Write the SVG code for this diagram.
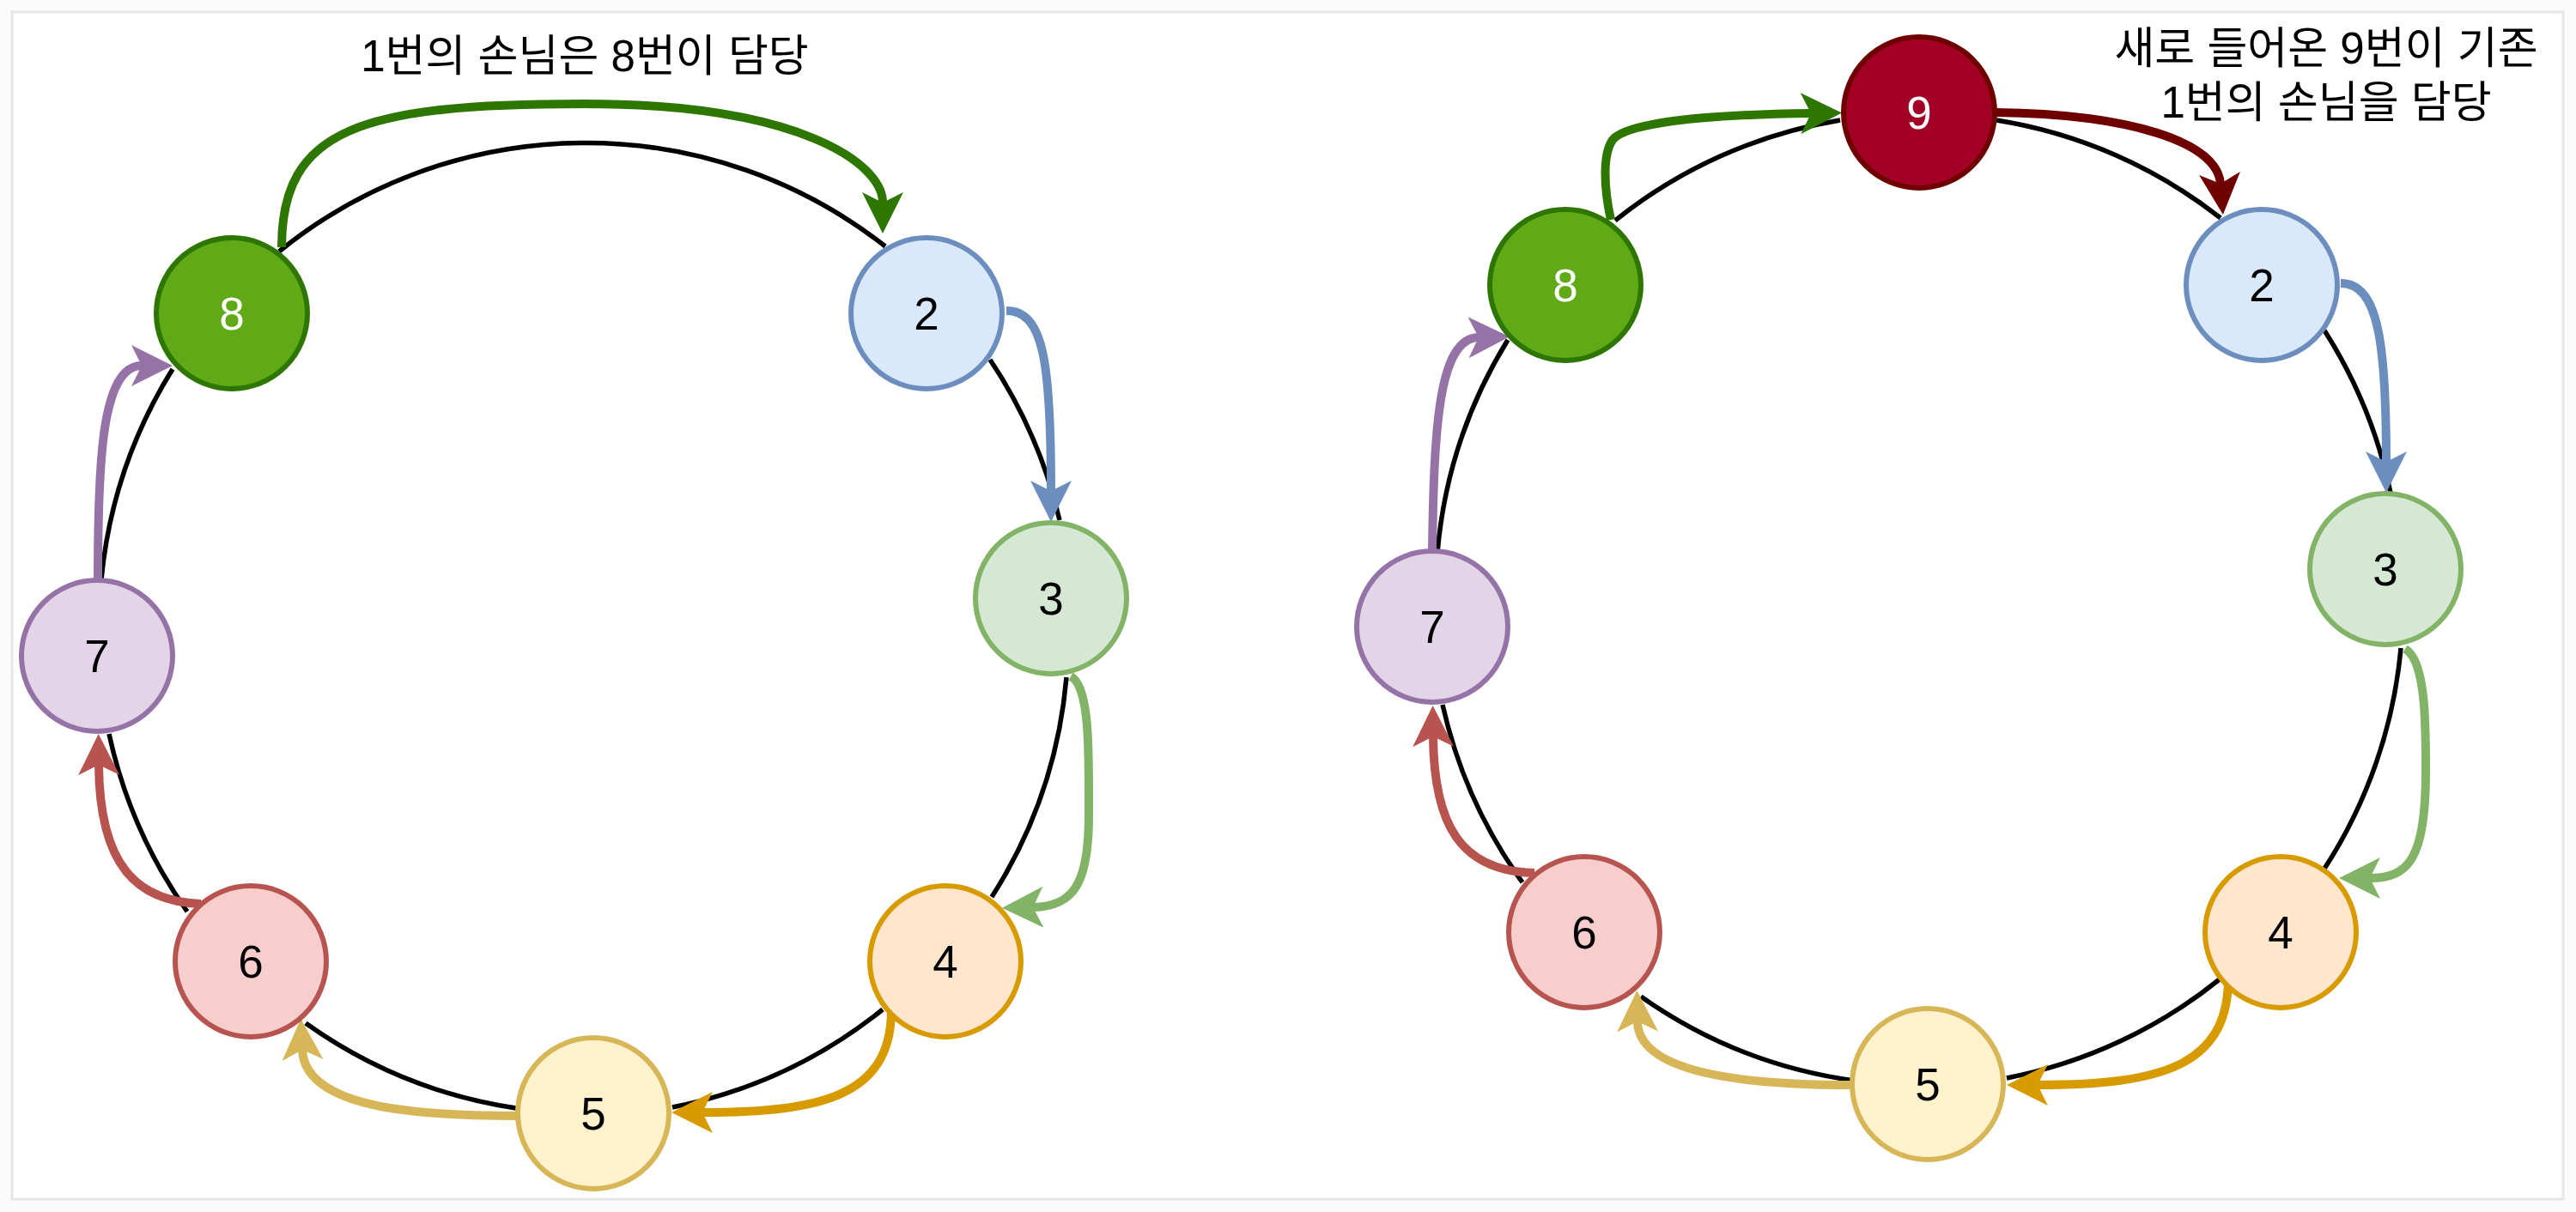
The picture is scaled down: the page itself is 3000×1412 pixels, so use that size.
<svg xmlns="http://www.w3.org/2000/svg" width="3000" height="1412" viewBox="0 0 3000 1412">
<style>
.ring{fill:none;stroke:#000;stroke-width:5.5}
.arr{fill:none;stroke-width:10}
.node{stroke-width:6}
.num{font-family:'Liberation Sans','Noto Sans',sans-serif;font-size:53px;text-anchor:middle}
.lbl{font-family:'Liberation Sans','Noto Sans CJK KR',sans-serif;font-size:51px;text-anchor:middle;fill:#000}
</style>
<defs>
<marker id="mG8" markerUnits="userSpaceOnUse" markerWidth="48" markerHeight="48" viewBox="0 0 48 48" refX="12" refY="24" orient="auto"><path d="M0,0 L48,24 L0,48 L12,24 Z" fill="#2d7600"/></marker>
<marker id="mB" markerUnits="userSpaceOnUse" markerWidth="48" markerHeight="48" viewBox="0 0 48 48" refX="12" refY="24" orient="auto"><path d="M0,0 L48,24 L0,48 L12,24 Z" fill="#6c8ebf"/></marker>
<marker id="mG3" markerUnits="userSpaceOnUse" markerWidth="48" markerHeight="48" viewBox="0 0 48 48" refX="12" refY="24" orient="auto"><path d="M0,0 L48,24 L0,48 L12,24 Z" fill="#82b366"/></marker>
<marker id="mO" markerUnits="userSpaceOnUse" markerWidth="48" markerHeight="48" viewBox="0 0 48 48" refX="12" refY="24" orient="auto"><path d="M0,0 L48,24 L0,48 L12,24 Z" fill="#d79b00"/></marker>
<marker id="mY" markerUnits="userSpaceOnUse" markerWidth="48" markerHeight="48" viewBox="0 0 48 48" refX="12" refY="24" orient="auto"><path d="M0,0 L48,24 L0,48 L12,24 Z" fill="#d6b656"/></marker>
<marker id="mR" markerUnits="userSpaceOnUse" markerWidth="48" markerHeight="48" viewBox="0 0 48 48" refX="12" refY="24" orient="auto"><path d="M0,0 L48,24 L0,48 L12,24 Z" fill="#b85450"/></marker>
<marker id="mP" markerUnits="userSpaceOnUse" markerWidth="48" markerHeight="48" viewBox="0 0 48 48" refX="12" refY="24" orient="auto"><path d="M0,0 L48,24 L0,48 L12,24 Z" fill="#9673a6"/></marker>
<marker id="mD" markerUnits="userSpaceOnUse" markerWidth="48" markerHeight="48" viewBox="0 0 48 48" refX="12" refY="24" orient="auto"><path d="M0,0 L48,24 L0,48 L12,24 Z" fill="#6f0000"/></marker>
</defs>
<rect x="0" y="0" width="3000" height="1412" fill="#fbfbfb"/>
<rect x="14" y="14" width="2971" height="1383" fill="#ffffff" stroke="#e6e6e6" stroke-width="3"/>

<g id="connectors">
<g id="ring-left">
<path class="ring" d="M325,293 A566,566 0 0 1 1031,287"/>
<path class="ring" d="M1153,419 A566,566 0 0 1 1234,606"/>
<path class="ring" d="M1242,789 A566,566 0 0 1 1155,1045"/>
<path class="ring" d="M1028,1176 A566,566 0 0 1 783,1290"/>
<path class="ring" d="M601,1291 A566,566 0 0 1 356,1192"/>
<path class="ring" d="M218,1062 A566,566 0 0 1 127,855"/>
<path class="ring" d="M118,675 A566,566 0 0 1 201,430"/>
</g>
<g id="arrows-left">
<path class="arr" stroke="#2d7600" marker-end="url(#mG8)" d="M328,288 C328,150 420,121 680,121 C930,121 1028,190 1028,236"/>
<path class="arr" stroke="#6c8ebf" marker-end="url(#mB)" d="M1172,362 C1215,362 1224,420 1224,572"/>
<path class="arr" stroke="#82b366" marker-end="url(#mG3)" d="M1247,788 C1270,800 1268,880 1268,950 C1268,1030 1250,1056 1203,1057"/>
<path class="arr" stroke="#d79b00" marker-end="url(#mO)" d="M1038,1180 C1036,1275 960,1296 818,1296"/>
<path class="arr" stroke="#d6b656" marker-end="url(#mY)" d="M603,1300 C480,1300 355,1290 352,1223"/>
<path class="arr" stroke="#b85450" marker-end="url(#mR)" d="M234,1053 C160,1050 116,1010 115,891"/>
<path class="arr" stroke="#9673a6" marker-end="url(#mP)" d="M114,674 C114,540 118,426 165,426"/>
</g>
<g id="ring-right">
<path class="ring" d="M1881,257 A565,565 0 0 1 2143,140"/>
<path class="ring" d="M2325,140 A565,565 0 0 1 2586,254"/>
<path class="ring" d="M2707,385 A565,565 0 0 1 2784,574"/>
<path class="ring" d="M2796,755 A565,565 0 0 1 2707,1012"/>
<path class="ring" d="M2586,1140 A565,565 0 0 1 2337,1256"/>
<path class="ring" d="M2160,1259 A565,565 0 0 1 1911,1161"/>
<path class="ring" d="M1773,1028 A565,565 0 0 1 1680,821"/>
<path class="ring" d="M1674,644 A565,565 0 0 1 1756,396"/>
</g>
<g id="arrows-right">
<path class="arr" stroke="#2d7600" marker-end="url(#mG8)" d="M1876,256 C1868,220 1866,180 1878,163 C1890,148 1950,134 2109,132"/>
<path class="arr" stroke="#6f0000" marker-end="url(#mD)" d="M2325,131 C2480,133 2582,165 2586,214"/>
<path class="arr" stroke="#6c8ebf" marker-end="url(#mB)" d="M2726,330 C2770,330 2779,400 2779,538"/>
<path class="arr" stroke="#82b366" marker-end="url(#mG3)" d="M2801,756 C2826,770 2825,850 2825,900 C2825,1000 2805,1023 2760,1023"/>
<path class="arr" stroke="#d79b00" marker-end="url(#mO)" d="M2595,1145 C2592,1240 2520,1264 2373,1264"/>
<path class="arr" stroke="#d6b656" marker-end="url(#mY)" d="M2158,1264 C2030,1264 1908,1250 1907,1190"/>
<path class="arr" stroke="#b85450" marker-end="url(#mR)" d="M1787,1017 C1700,1015 1670,960 1669,858"/>
<path class="arr" stroke="#9673a6" marker-end="url(#mP)" d="M1668,642 C1670,500 1675,394 1722,393"/>
</g>
</g>

<g id="left-nodes">
<g id="L8"><circle class="node" cx="270" cy="365" r="88" fill="#60a917" stroke="#2d7600"/><text class="num" x="270" y="384" fill="#ffffff">8</text></g>
<g id="L2"><circle class="node" cx="1079" cy="365" r="88" fill="#dae8fc" stroke="#6c8ebf"/><text class="num" x="1079" y="384" fill="#000">2</text></g>
<g id="L3"><circle class="node" cx="1224" cy="697" r="88" fill="#d5e8d4" stroke="#82b366"/><text class="num" x="1224" y="716" fill="#000">3</text></g>
<g id="L4"><circle class="node" cx="1101" cy="1120" r="88" fill="#ffe6cc" stroke="#d79b00"/><text class="num" x="1101" y="1139" fill="#000">4</text></g>
<g id="L5"><circle class="node" cx="691" cy="1297" r="88" fill="#fff2cc" stroke="#d6b656"/><text class="num" x="691" y="1316" fill="#000">5</text></g>
<g id="L6"><circle class="node" cx="292" cy="1120" r="88" fill="#f8cecc" stroke="#b85450"/><text class="num" x="292" y="1139" fill="#000">6</text></g>
<g id="L7"><circle class="node" cx="113" cy="764" r="88" fill="#e1d5e7" stroke="#9673a6"/><text class="num" x="113" y="783" fill="#000">7</text></g>
</g>

<g id="right-nodes">
<g id="R9"><circle class="node" cx="2235" cy="131" r="88" fill="#a20025" stroke="#6f0000"/><text class="num" x="2235" y="150" fill="#ffffff">9</text></g>
<g id="R8"><circle class="node" cx="1823" cy="332" r="88" fill="#60a917" stroke="#2d7600"/><text class="num" x="1823" y="351" fill="#ffffff">8</text></g>
<g id="R2"><circle class="node" cx="2634" cy="332" r="88" fill="#dae8fc" stroke="#6c8ebf"/><text class="num" x="2634" y="351" fill="#000">2</text></g>
<g id="R3"><circle class="node" cx="2778" cy="663" r="88" fill="#d5e8d4" stroke="#82b366"/><text class="num" x="2778" y="682" fill="#000">3</text></g>
<g id="R4"><circle class="node" cx="2656" cy="1086" r="88" fill="#ffe6cc" stroke="#d79b00"/><text class="num" x="2656" y="1105" fill="#000">4</text></g>
<g id="R5"><circle class="node" cx="2245" cy="1263" r="88" fill="#fff2cc" stroke="#d6b656"/><text class="num" x="2245" y="1282" fill="#000">5</text></g>
<g id="R6"><circle class="node" cx="1845" cy="1086" r="88" fill="#f8cecc" stroke="#b85450"/><text class="num" x="1845" y="1105" fill="#000">6</text></g>
<g id="R7"><circle class="node" cx="1668" cy="730" r="88" fill="#e1d5e7" stroke="#9673a6"/><text class="num" x="1668" y="749" fill="#000">7</text></g>
</g>

<g id="labels">
<text class="lbl" x="681" y="83">1번의 손님은 8번이 담당</text>
<text class="lbl" x="2709" y="74">새로 들어온 9번이 기존</text>
<text class="lbl" x="2709" y="137">1번의 손님을 담당</text>
</g>
</svg>
